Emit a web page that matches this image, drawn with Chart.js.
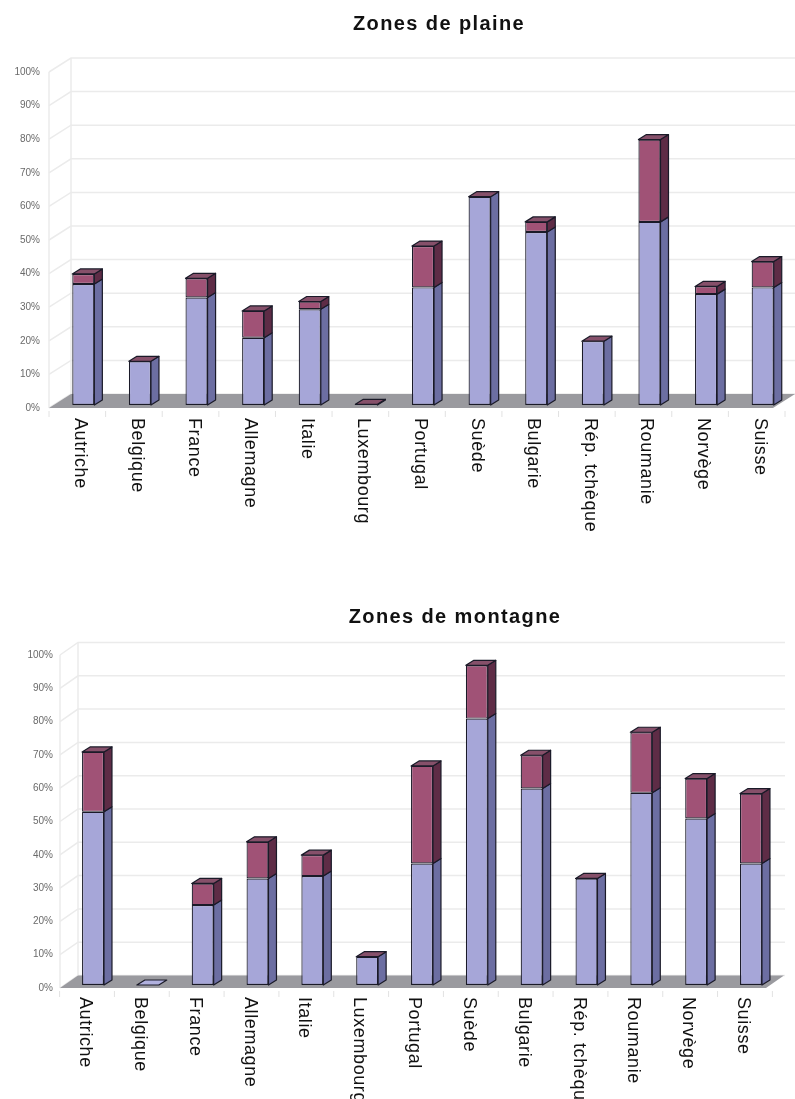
<!DOCTYPE html>
<html>
<head>
<meta charset="utf-8">
<script src="https://cdn.jsdelivr.net/npm/chart.js@4.4.1/dist/chart.umd.min.js"></script>
<style>
  html, body { margin: 0; padding: 0; background: #fff; }
  #wrap { position: relative; width: 795px; height: 1099px; overflow: hidden; }
  canvas { position: absolute; left: 0; }
</style>
</head>
<body>
<div id="wrap">
  <canvas id="plaine" width="795" height="560" style="top:0"></canvas>
  <canvas id="montagne" width="795" height="539" style="top:560px"></canvas>
</div>
<script>
// Categories and values (percent)
const countries = ['Autriche', 'Belgique', 'France', 'Allemagne', 'Italie', 'Luxembourg', 'Portugal',
                   'Suède', 'Bulgarie', 'Rép. tchèque', 'Roumanie', 'Norvège', 'Suisse'];
const yTicks = [0, 10, 20, 30, 40, 50, 60, 70, 80, 90, 100];

const plaineLower = [36, 13, 32, 20, 28.5, 0, 35, 62, 51.5, 19, 54.5, 33, 35];
const plaineUpper = [3, 0, 5.7, 8, 2.3, 0.2, 12.3, 0, 3, 0, 24.5, 2.3, 7.7];

const montagneLower = [52, 0, 24, 32, 32.7, 8.5, 36.5, 80, 59, 32, 57.7, 50, 36.5];
const montagneUpper = [18, 0, 6.5, 11, 6.3, 0, 29.3, 16, 10, 0, 18.2, 12, 21];

const FONT = '"Liberation Sans", Arial, Helvetica, sans-serif';
const BLUE = { front: '#a6a6d8', side: '#6c6ea2', top: '#b0b0de' };
const RED  = { front: '#a05276', side: '#5e2c46', top: '#86506a' };
const EDGE = '#1a1a28';
const DEPTH_X = 8, DEPTH_Y = -5;

function poly(ctx, pts, fill) {
  ctx.beginPath();
  ctx.moveTo(pts[0][0], pts[0][1]);
  for (let k = 1; k < pts.length; k++) ctx.lineTo(pts[k][0], pts[k][1]);
  ctx.closePath();
  ctx.fillStyle = fill;
  ctx.fill();
  ctx.stroke();
}

// Walls, floor, bar depth faces, title and rotated category labels
function boxPlugin(g) {
  return {
    id: 'box3d',
    beforeDatasetsDraw(chart) {
      const { ctx, scales: { x, y } } = chart;
      const f0 = y.getPixelForValue(0) + g.front;
      const f100 = y.getPixelForValue(100) + g.front;
      ctx.save();
      ctx.strokeStyle = '#ebebeb';
      ctx.lineWidth = 1.5;
      yTicks.forEach(v => {
        const fy = y.getPixelForValue(v) + g.front;
        const by = fy + g.wallDy;
        ctx.beginPath();
        ctx.moveTo(g.axisX, fy);
        ctx.lineTo(g.axisX + g.wallDx, by);
        ctx.lineTo(g.wallRight, by);
        ctx.stroke();
      });
      ctx.beginPath();
      ctx.moveTo(g.axisX, f0); ctx.lineTo(g.axisX, f100);
      ctx.moveTo(g.axisX + g.wallDx, f0 + g.wallDy); ctx.lineTo(g.axisX + g.wallDx, f100 + g.wallDy);
      ctx.stroke();
      // small ticks between categories under the floor
      ctx.strokeStyle = '#e2e2e2';
      ctx.lineWidth = 1;
      for (let i = 0; i <= countries.length; i++) {
        const px = x.getPixelForValue(i - 0.5) - 6;
        ctx.beginPath();
        ctx.moveTo(px, f0 + 3); ctx.lineTo(px, f0 + 9);
        ctx.stroke();
      }
      // floor
      ctx.fillStyle = '#9a9a9f';
      ctx.beginPath();
      ctx.moveTo(g.axisX, f0);
      ctx.lineTo(g.floorRight, f0);
      ctx.lineTo(g.floorRight + g.wallDx, f0 + g.wallDy);
      ctx.lineTo(g.axisX + g.wallDx, f0 + g.wallDy);
      ctx.closePath();
      ctx.fill();
      ctx.restore();
    },
    afterDatasetsDraw(chart) {
      const ctx = chart.ctx;
      const lowMeta = chart.getDatasetMeta(0), highMeta = chart.getDatasetMeta(1);
      const lowVals = chart.data.datasets[0].data, highVals = chart.data.datasets[1].data;
      ctx.save();
      ctx.lineWidth = 1.2;
      ctx.strokeStyle = EDGE;
      ctx.lineJoin = 'round';
      lowMeta.data.forEach((lo, i) => {
        const hi = highMeta.data[i];
        [[lo, BLUE], [hi, RED]].forEach(([e, c]) => {
          if (Math.abs(e.base - e.y) < 0.5) return;
          const r = e.x + e.width / 2;
          poly(ctx, [[r, e.y], [r + DEPTH_X, e.y + DEPTH_Y], [r + DEPTH_X, e.base + DEPTH_Y], [r, e.base]], c.side);
        });
        const l = hi.x - hi.width / 2, r = hi.x + hi.width / 2, t = hi.y;
        const total = lowVals[i] + highVals[i];
        poly(ctx, [[l, t], [l + DEPTH_X, t + DEPTH_Y], [r + DEPTH_X, t + DEPTH_Y], [r, t]], total > 0 ? RED.top : BLUE.top);
      });
      ctx.restore();
    },
    afterDraw(chart) {
      const { ctx, scales: { x } } = chart;
      ctx.save();
      ctx.fillStyle = '#111';
      ctx.font = 'bold 20px ' + FONT;
      ctx.textAlign = 'center';
      ctx.textBaseline = 'middle';
      ctx.letterSpacing = '1.4px';
      ctx.fillText(g.title, g.titleX, g.titleY);
      ctx.font = '18px ' + FONT;
      ctx.letterSpacing = '0.6px';
      ctx.textAlign = 'left';
      ctx.textBaseline = 'top';
      ctx.fillStyle = '#111';
      countries.forEach((name, i) => {
        ctx.save();
        ctx.translate(x.getPixelForValue(i) + g.labelDx, g.labelY);
        ctx.rotate(Math.PI / 2);
        ctx.fillText(name, 0, 0);
        ctx.restore();
      });
      ctx.restore();
    }
  };
}

function makeChart(id, lower, upper, g) {
  return new Chart(document.getElementById(id), {
    type: 'bar',
    data: {
      labels: countries,
      datasets: [
        { label: 'Série 1', data: lower, backgroundColor: BLUE.front, borderColor: EDGE, borderWidth: 1.2, borderSkipped: false },
        { label: 'Série 2', data: upper, backgroundColor: RED.front, borderColor: EDGE, borderWidth: 1.2, borderSkipped: false }
      ]
    },
    options: {
      responsive: false,
      devicePixelRatio: 1,
      animation: false,
      events: [],
      layout: { padding: { top: g.padTop, right: g.padRight, left: 0, bottom: 0 } },
      datasets: { bar: { categoryPercentage: 1, barPercentage: g.barPct } },
      plugins: { legend: { display: false }, title: { display: false }, tooltip: { enabled: false } },
      scales: {
        x: {
          stacked: true,
          grid: { display: false, drawTicks: false },
          border: { display: false },
          ticks: { display: false },
          afterFit: s => { s.height = g.xHeight; }
        },
        y: {
          stacked: true,
          min: 0, max: 100,
          grid: { display: false, drawTicks: false },
          border: { display: false },
          afterBuildTicks: s => { s.ticks = yTicks.map(v => ({ value: v })); },
          ticks: {
            padding: g.yPad,
            labelOffset: g.front,
            color: '#6a6a6a',
            font: { family: FONT, size: 10 },
            callback: v => v + '%'
          },
          afterFit: s => { s.width = g.yWidth; }
        }
      }
    },
    plugins: [boxPlugin(g)]
  });
}

makeChart('plaine', plaineLower, plaineUpper, {
  title: 'Zones de plaine', titleX: 439, titleY: 24,
  padTop: 69, padRight: 4, yWidth: 55, xHeight: 155, yPad: 15, barPct: 0.39,
  front: 3, axisX: 49, wallDx: 22, wallDy: -14, wallRight: 795, floorRight: 773,
  labelY: 418, labelDx: 6
});

makeChart('montagne', montagneLower, montagneUpper, {
  title: 'Zones de montagne', titleX: 455, titleY: 57,
  padTop: 92, padRight: 16.6, yWidth: 65.6, xHeight: 114, yPad: 12.6, barPct: 0.40,
  front: 3, axisX: 60, wallDx: 18, wallDy: -12.5, wallRight: 785, floorRight: 766,
  labelY: 437, labelDx: 1
});
</script>
</body>
</html>
